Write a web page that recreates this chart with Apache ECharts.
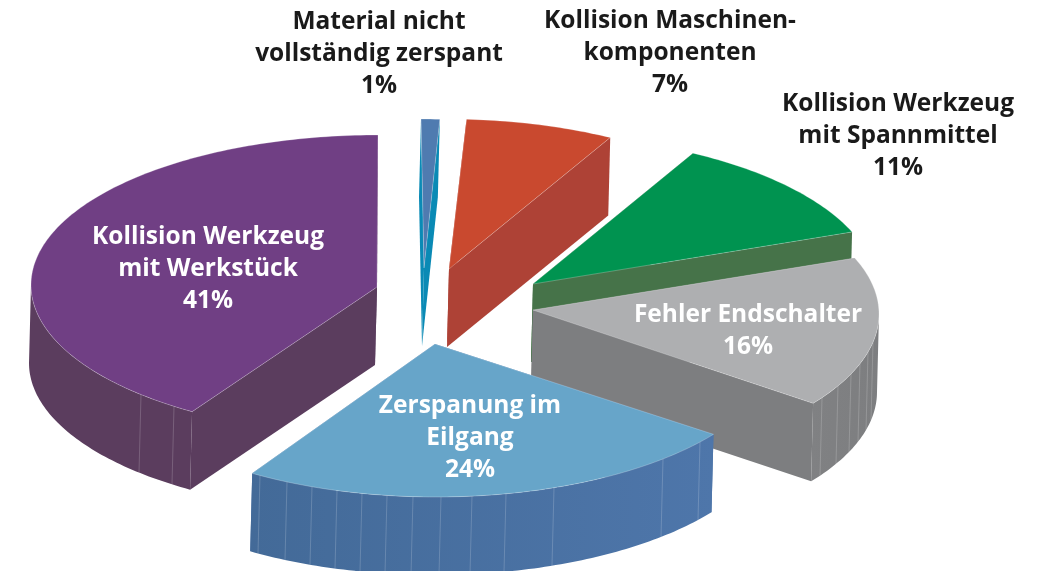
<!DOCTYPE html>
<html>
<head>
<meta charset="utf-8">
<style>
  html, body { margin: 0; padding: 0; background: #fff; }
  #chart { width: 1049px; height: 571px; }
</style>
<script src="https://cdn.jsdelivr.net/npm/echarts@6/dist/echarts.min.js"></script>
</head>
<body>
<div id="chart"></div>
<script>
// values clockwise from 12 o'clock
const categories = [
  "Material nicht\nvollständig zerspant",
  "Kollision Maschinen-\nkomponenten",
  "Kollision Werkzeug\nmit Spannmittel",
  "Fehler Endschalter",
  "Zerspanung im\nEilgang",
  "Kollision Werkzeug\nmit Werkstück",
];
const shares = [1, 7, 11, 16, 24, 41];

// look of each slice, same order as above
const topColors = ["#4f7bb0", "#c9492f", "#009350", "#aeafb1", "#67a5c9", "#703f84"];
const wallColors = ["#0a8ab5", "#ae4236", "#467349", "#7d7e80", "#4c74a8", "#5b3d5e"];
const rimColors = [
  ["#0a8ab5", "#0a8ab5"],
  ["#ae4236", "#ae4236"],
  ["#467349", "#467349"],
  ["#808183", "#7d7e80"],
  ["#436a98", "#4e76aa"],
  ["#5b3d5e", "#5b3d5e"],
];
const labelColors = ["#1a1a1a", "#1a1a1a", "#1a1a1a", "#ffffff", "#ffffff", "#ffffff"];

// exploded slices: tip of the wedge, centre and radii of its arc
const slices = [
  { tip: [424, 268], c: [421, 269], rx: 300, ry: 150, label: [379, 54] },
  { tip: [449, 269], c: [445, 269], rx: 343, ry: 150, label: [670, 53] },
  { tip: [533, 284], c: [522, 289], rx: 355, ry: 155, label: [898, 136] },
  { tip: [533, 310], c: [534, 314], rx: 345, ry: 152, label: [748, 331] },
  { tip: [435, 344], c: [436, 345], rx: 343, ry: 152, label: [470, 438] },
  { tip: [377, 287], c: [378, 285], rx: 347, ry: 150, label: [208, 269] },
];
const DEPTH = 78;
const SHIFT = -2;

// the thin seams on the rim, by screen x
const seams = [
  [], [], [],
  [822, 838, 851, 860, 868, 873],
  [260, 287, 312, 337, 362, 387, 413, 441, 472, 506, 554, 663, 700],
  [141, 174],
];

const total = shares.reduce((a, b) => a + b, 0);
const startAngles = [];
shares.reduce((acc, v, i) => {
  startAngles[i] = (acc / total) * Math.PI * 2;
  return acc + v;
}, 0);

function onArc(s, a) {
  return [s.c[0] + s.rx * Math.sin(a), s.c[1] - s.ry * Math.cos(a)];
}
function down(p) {
  return [p[0] + SHIFT, p[1] + DEPTH];
}
function arcPoints(s, a0, a1) {
  const n = Math.max(2, Math.ceil(Math.abs(a1 - a0) * 60));
  const pts = [];
  for (let k = 0; k <= n; k++) pts.push(onArc(s, a0 + ((a1 - a0) * k) / n));
  return pts;
}
function poly(points, fill, extra) {
  return {
    type: "polygon",
    shape: { points: points },
    style: Object.assign({ fill: fill }, extra),
  };
}

function renderSlice(params, api) {
  const i = params.dataIndex;
  const s = slices[i];
  const a0 = startAngles[i];
  const a1 = a0 + (api.value(0) / total) * Math.PI * 2;
  const children = [];

  // cut faces first, the top hides whichever one faces away
  [a0, a1].forEach((a) => {
    const p = onArc(s, a);
    children.push(poly([s.tip, p, down(p), down(s.tip)], wallColors[i]));
  });

  // outer rim, only the front half of the ellipse shows
  const r0 = Math.max(a0, Math.PI / 2);
  const r1 = Math.min(a1, Math.PI * 1.5);
  if (r1 > r0) {
    const pts = arcPoints(s, r0, r1);
    children.push(
      poly(pts.concat(pts.map(down).reverse()), new echarts.graphic.LinearGradient(0, 0, 1, 0, [
        { offset: 0, color: rimColors[i][0] },
        { offset: 1, color: rimColors[i][1] },
      ]))
    );
    seams[i].forEach((x) => {
      const a = Math.PI - Math.asin((x - s.c[0]) / s.rx);
      const p = onArc(s, a);
      const q = down(p);
      children.push({
        type: "line",
        shape: { x1: p[0], y1: p[1], x2: q[0], y2: q[1] },
        style: { stroke: "rgba(255,255,255,0.18)", lineWidth: 1 },
      });
    });
  }

  // top face
  children.push(
    poly([s.tip].concat(arcPoints(s, a0, a1)), topColors[i], {
      stroke: "rgba(255,255,255,0.3)",
      lineWidth: 0.8,
      lineJoin: "round",
    })
  );

  children.push({
    type: "text",
    style: {
      text: categories[i] + "\n" + api.value(0) + "%",
      x: s.label[0],
      y: s.label[1],
      align: "center",
      verticalAlign: "middle",
      fill: labelColors[i],
      fontFamily: "Open Sans",
      fontWeight: 700,
      fontSize: 24.5,
      lineHeight: 32,
    },
  });

  return { type: "group", children: children };
}

const chart = echarts.init(document.getElementById("chart"), null, { renderer: "canvas" });
chart.setOption({
  animation: false,
  backgroundColor: "#ffffff",
  series: [
    {
      type: "custom",
      coordinateSystem: "none",
      renderItem: renderSlice,
      encode: { value: 0 },
      data: shares.map((v, i) => ({ name: categories[i], value: [v] })),
    },
  ],
});
</script>
</body>
</html>
